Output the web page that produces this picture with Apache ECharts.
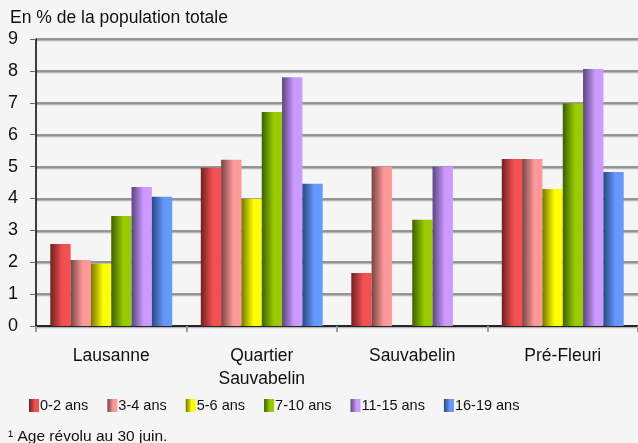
<!DOCTYPE html>
<html lang="fr">
<head>
    <meta charset="UTF-8">
    <script src="https://cdn.jsdelivr.net/npm/echarts@6/dist/echarts.min.js"></script>
    <title>population</title>
</head>
<style>
    html, body { margin: 0; padding: 0; background: #f5f5f5; }
    #chart { width: 638px; height: 443px; }
</style>
<body>
    <div id="chart"></div>
    <script>
        let categories = ['Lausanne', 'Quartier\nSauvabelin', 'Sauvabelin', 'Pré-Fleuri'];
        let ageGroups = ['0-2 ans', '3-4 ans', '5-6 ans', '7-10 ans', '11-15 ans', '16-19 ans'];
        let age0_2 = [2.57, 4.96, 1.66, 5.24];
        let age3_4 = [2.07, 5.21, 4.99, 5.24];
        let age5_6 = [1.95, 3.99, null, 4.30];
        let age7_10 = [3.45, 6.71, 3.33, 6.98];
        let age11_15 = [4.36, 7.80, 5.00, 8.06];
        let age16_19 = [4.05, 4.46, null, 4.83];
        let yTicks = [0, 1, 2, 3, 4, 5, 6, 7, 8, 9];

        let seriesData = [age0_2, age3_4, age5_6, age7_10, age11_15, age16_19];
        // dark side / light side of each bar
        let shades = [
            ['#6e2020', '#f45050'],
            ['#764444', '#ff9999'],
            ['#767600', '#ffff00'],
            ['#3a6000', '#99cc00'],
            ['#584680', '#cc99ff'],
            ['#284a80', '#6699ff']
        ];

        function grad(c) {
            return new echarts.graphic.LinearGradient(0, 0, 1, 0, [
                { offset: 0, color: c[0] },
                { offset: 0.6, color: c[1] },
                { offset: 1, color: c[1] }
            ]);
        }

        let series = seriesData.map(function (d, i) {
            return {
                name: ageGroups[i],
                type: 'bar',
                data: d,
                barGap: '0%',
                barCategoryGap: '19%',
                itemStyle: { color: grad(shades[i]) }
            };
        });

        let option = {
            backgroundColor: '#f5f5f5',
            animation: false,
            textStyle: { fontFamily: 'Liberation Sans' },
            grid: { left: 36, right: 0, top: 39, bottom: 117 },
            legend: {
                data: ageGroups,
                bottom: 25,
                left: 24,
                itemWidth: 10,
                itemHeight: 13,
                itemGap: 19,
                icon: 'rect',
                textStyle: { fontSize: 14.5, color: '#111', padding: [0, 0, 0, -4] }
            },
            xAxis: {
                type: 'category',
                data: categories,
                axisLine: { lineStyle: { color: '#000', width: 1.5 } },
                axisTick: { show: true, length: 6, lineStyle: { color: '#999', width: 2 } },
                axisLabel: { fontSize: 17.5, color: '#111', margin: 19, lineHeight: 23 }
            },
            yAxis: {
                type: 'value',
                min: 0,
                max: 9,
                interval: 1,
                name: 'En % de la population totale',
                nameLocation: 'end',
                nameGap: 12,
                nameTextStyle: { fontSize: 17.5, color: '#111', align: 'left', padding: [0, 0, 0, -26] },
                axisLine: { show: true, lineStyle: { color: '#000', width: 1.5 } },
                axisTick: { show: true, length: 6, lineStyle: { color: '#666' } },
                axisLabel: {
                    fontSize: 18, color: '#111', margin: 18,
                    formatter: function (v) { return yTicks.indexOf(v) >= 0 ? String(v) : ''; }
                },
                splitLine: {
                    lineStyle: {
                        color: '#777', width: 1.5,
                        shadowColor: 'rgba(0,0,0,0.25)', shadowOffsetY: 1.5, shadowBlur: 0
                    }
                }
            },
            graphic: [{
                type: 'text',
                left: 8,
                top: 429,
                style: { text: '¹ Age révolu au 30 juin.', fontSize: 15.5, fill: '#111', fontFamily: 'Liberation Sans' }
            }],
            series: series
        };

        let myChart = echarts.init(document.getElementById('chart'));
        myChart.setOption(option);
    </script>
</body>
</html>
